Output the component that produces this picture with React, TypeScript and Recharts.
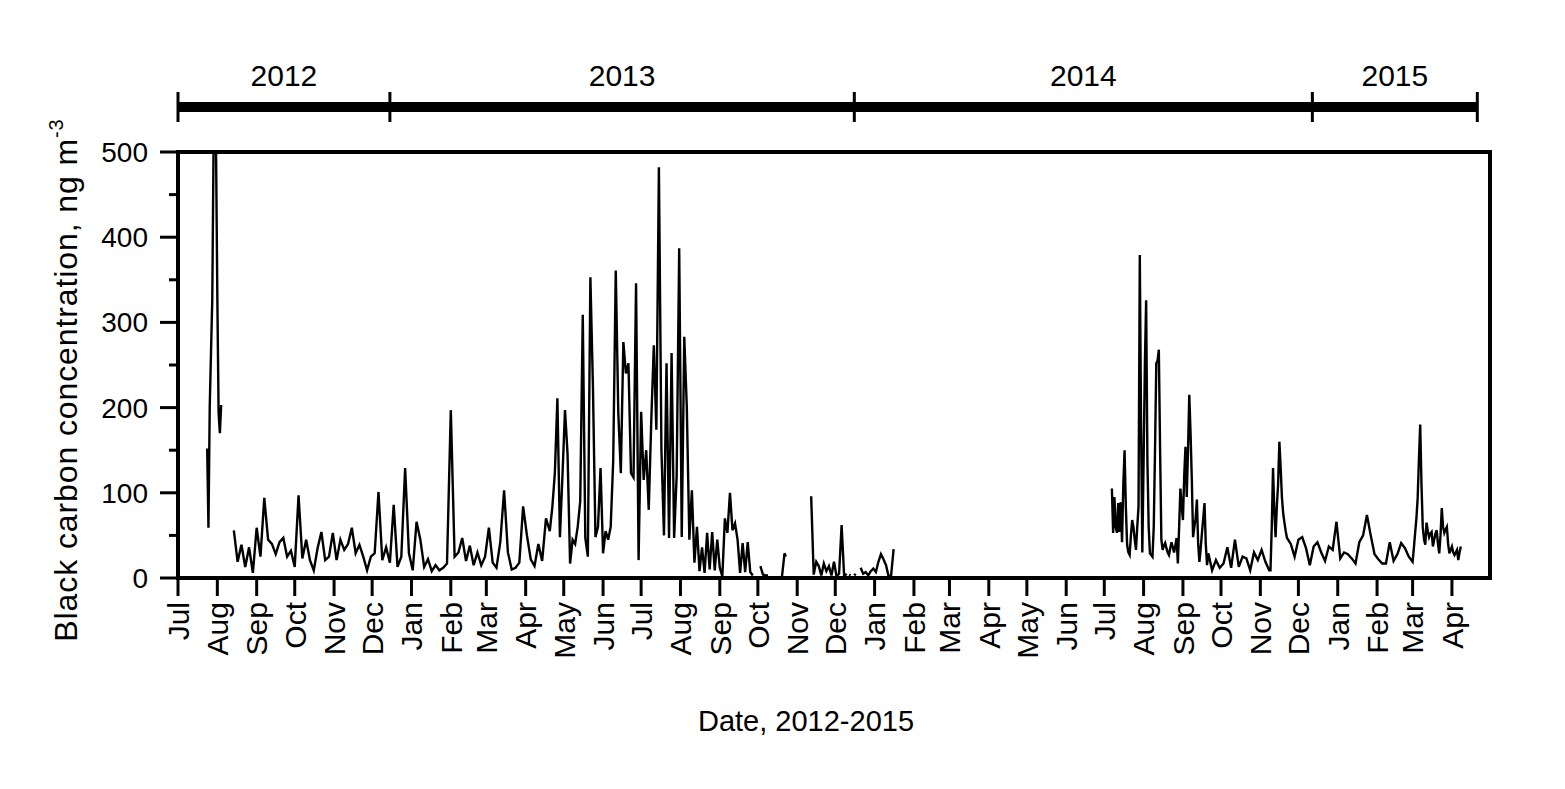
import React from 'react';
import { LineChart, Line, XAxis, YAxis, ComposedChart, Scatter } from 'recharts';

const FONT = '"Liberation Sans", Arial, sans-serif';
const DAY0 = Date.UTC(2012, 6, 1);
const dayOf = (iso: string) => Math.round((Date.parse(iso) - DAY0) / 86400000);
const END_DAY = dayOf('2015-05-01');

// black carbon, ng m-3; each piece = first date, step in days, values
const jul2012Spike = [152, 59, 200, 264, 326, 500, 500, 500, 330, 194, 170, 203];

const autumn2012 = [
  56, 19, 39, 13, 36, 6, 59, 25, 94, 45, 40, 28, 42, 47, 25, 32, 13, 97, 23, 45,
  21, 9, 35, 54, 21, 25, 53, 21, 45, 33, 40, 59, 29, 39, 25, 9, 25, 29, 101, 21,
  36, 18, 86, 13, 25, 129, 29, 9, 66, 45, 13, 22, 8, 15, 9, 12, 17, 197, 25, 30,
  47, 20, 38, 15, 30, 15, 25, 59, 18, 12, 42, 103, 30, 10, 12, 18, 84, 50, 22, 14,
  40, 20, 70, 55,
];

const summer2013 = [
  83, 123, 211, 48, 120, 197, 146, 17, 45, 40, 60, 90, 309, 47, 25, 353, 226, 48, 60, 129,
  29, 55, 45, 60, 138, 361, 194, 123, 277, 240, 252, 123, 118, 346, 21, 195, 115, 150, 80, 185,
  273, 174, 482, 150, 50, 252, 47, 264, 47, 120, 387, 48, 283, 200, 45, 103, 18, 60, 8, 36,
  6, 53, 10, 54, 9, 45, 12, 2, 70, 53, 100, 56, 64, 45, 6, 41, 7, 42, 7, 3,
];

const oct2013a = [14, 4, 3, 3];
const oct2013b = [2, 15, 29, 25];
const nov2013 = [96, 4, 19, 14, 3, 17, 8, 14, 3, 19, 2, 5, 62, 2, 5];
const dec2013a = [4, 3];
const dec2013b = [3, 5];
const dec2013c = [12, 5, 7, 3, 8, 11, 7, 19, 28, 22, 15, 2, 3, 34];

const summer2014 = [
  105, 53, 95, 60, 53, 88, 54, 89, 42, 109, 150, 84, 39, 30, 27, 50, 68, 60, 45, 33,
  60, 84, 379, 180, 30, 138, 250, 326, 138, 60, 29, 27, 25, 60, 150, 252, 255, 268, 150, 45,
  33, 38, 41, 35, 30, 27, 35, 42, 36, 30, 38, 47, 17, 60, 105, 85, 68, 120, 154, 95,
  150, 215, 170, 115, 48, 60, 70, 92, 40, 19, 35, 53, 70, 88, 40, 15, 29,
];
const autumn2014 = [9, 21, 12, 17, 36, 12, 45, 13, 25, 23, 9, 30, 21, 33, 19, 9];
const nov2014 = [9, 60, 129, 80, 48, 84, 110, 160, 130, 95, 76, 65, 55, 47];
const winter2015 = [
  40, 25, 45, 48, 35, 15, 37, 42, 30, 20, 37, 33, 66, 23, 30, 28, 23, 17, 42, 50,
  74, 50, 28, 22, 17, 17, 42, 20, 28, 41, 35, 25, 19,
];
const spring2015 = [
  35, 53, 70, 94, 140, 180, 110, 60, 45, 39, 65, 55, 48, 52, 54, 37, 45, 52, 56, 40,
  29, 50, 82, 60, 53, 57, 60, 40, 29, 33, 37, 30, 27, 30, 33, 21, 30, 37,
];

type Piece = { from: string; step: number; values: number[] };
// pieces inside a run are joined, runs are separated by gaps
const runs: Piece[][] = [
  [{ from: '2012-07-24', step: 1, values: jul2012Spike }],
  [
    { from: '2012-08-14', step: 3, values: autumn2012 },
    { from: '2013-04-22', step: 2, values: summer2013 },
  ],
  [{ from: '2013-10-03', step: 2, values: oct2013a }],
  [{ from: '2013-10-20', step: 1, values: oct2013b }],
  [{ from: '2013-11-12', step: 2, values: nov2013 }],
  [{ from: '2013-12-12', step: 1, values: dec2013a }],
  [{ from: '2013-12-16', step: 1, values: dec2013b }],
  [{ from: '2013-12-21', step: 2, values: dec2013c }],
  [
    { from: '2014-07-07', step: 1, values: summer2014 },
    { from: '2014-09-24', step: 3, values: autumn2014 },
    { from: '2014-11-09', step: 1, values: nov2014 },
    { from: '2014-11-25', step: 3, values: winter2015 },
    { from: '2015-03-02', step: 1, values: spring2015 },
  ],
];

const yearBounds = ['2012-07-01', '2012-12-15', '2013-12-16', '2014-12-12', '2015-04-21'];
const yearNames = ['2012', '2013', '2014', '2015'];
const monthNames = ['Jul', 'Aug', 'Sep', 'Oct', 'Nov', 'Dec', 'Jan', 'Feb', 'Mar', 'Apr', 'May', 'Jun'];
const yTicks = [0, 50, 100, 150, 200, 250, 300, 350, 400, 450, 500];

const rows: { day: number; bc: number | null }[] = [];
runs.forEach((run) => {
  if (rows.length) rows.push({ day: rows[rows.length - 1].day + 1, bc: null });
  run.forEach((p) => {
    const d0 = dayOf(p.from);
    p.values.forEach((v, i) => rows.push({ day: d0 + i * p.step, bc: v }));
  });
});

const monthTicks = Array.from({ length: 34 }, (_, i) => (Date.UTC(2012, 6 + i, 1) - DAY0) / 86400000);

const boundData = yearBounds.map((s) => ({ day: dayOf(s), v: 0.5 }));
const yearLabelData = yearNames.map((name, i) => ({
  day: (dayOf(yearBounds[i]) + dayOf(yearBounds[i + 1])) / 2,
  v: 0.5,
  name,
}));

const MonthTick = (props: any) => {
  const { x, y, index } = props;
  return (
    <g>
      <line x1={x} x2={x} y1={y} y2={y + 18} stroke="#000" strokeWidth={3} />
      <text
        transform={`translate(${x},${y + 24}) rotate(-90)`}
        textAnchor="end"
        dy="0.36em"
        fontSize={30}
        fontFamily={FONT}
        fill="#000"
      >
        {monthNames[index % 12]}
      </text>
    </g>
  );
};

const ValueTick = (props: any) => {
  const { x, y, payload } = props;
  const major = payload.value % 100 === 0;
  return (
    <g>
      <line x1={x} x2={x - (major ? 18 : 9)} y1={y} y2={y} stroke="#000" strokeWidth={3} />
      {major && (
        <text x={x - 30} y={y} dy="0.36em" textAnchor="end" fontSize={28} fontFamily={FONT} fill="#000">
          {payload.value}
        </text>
      )}
    </g>
  );
};

const YTitle = (props: any) => {
  const { viewBox } = props;
  const cx = viewBox.x - 13;
  const cy = viewBox.y + viewBox.height / 2 + 15;
  return (
    <text
      transform={`translate(${cx},${cy}) rotate(-90)`}
      textAnchor="middle"
      dy="0.36em"
      fontSize={32}
      letterSpacing={0.9}
      fontFamily={FONT}
      fill="#000"
    >
      Black carbon concentration, ng m
      <tspan fontSize={20} dy={-14}>-3</tspan>
    </text>
  );
};

const XTitle = (props: any) => {
  const { viewBox } = props;
  return (
    <text x={viewBox.x + viewBox.width / 2 - 28} y={viewBox.y + 143} dy="0.36em" textAnchor="middle" fontSize={29} fontFamily={FONT} fill="#000">
      Date, 2012-2015
    </text>
  );
};

const BoundTick = (props: any) => (
  <line x1={props.cx} x2={props.cx} y1={props.cy - 15} y2={props.cy + 15} stroke="#000" strokeWidth={3} />
);

const YearLabel = (props: any) => (
  <text x={props.cx} y={props.cy - 21} textAnchor="middle" fontSize={30} fontFamily={FONT} fill="#000">
    {props.payload.name}
  </text>
);

const frameLine = { stroke: '#000', strokeWidth: 4, strokeLinecap: 'square' as const };

export default function App() {
  return (
    <div style={{ position: 'relative', width: 1557, height: 781, background: '#fff' }}>
      <LineChart width={1557} height={781} data={rows} margin={{ top: 143, right: 74, bottom: 41, left: 70 }}>
        <XAxis
          xAxisId="frame"
          orientation="top"
          type="number"
          dataKey="day"
          domain={[0, END_DAY]}
          height={1}
          tick={false}
          tickLine={false}
          axisLine={frameLine}
        />
        <XAxis
          type="number"
          dataKey="day"
          domain={[0, END_DAY]}
          ticks={monthTicks}
          interval={0}
          tick={<MonthTick />}
          tickLine={false}
          tickSize={0}
          tickMargin={0}
          axisLine={frameLine}
          height={170}
          label={<XTitle />}
        />
        <YAxis
          domain={[0, 500]}
          ticks={yTicks}
          interval={0}
          allowDataOverflow
          tick={<ValueTick />}
          tickLine={false}
          tickSize={0}
          tickMargin={0}
          axisLine={frameLine}
          width={100}
          label={<YTitle />}
        />
        <YAxis yAxisId="frame" orientation="right" domain={[0, 500]} width={1} tick={false} tickLine={false} axisLine={frameLine} />
        <Line
          type="linear"
          dataKey="bc"
          stroke="#000"
          strokeWidth={2.4}
          dot={false}
          connectNulls={false}
          isAnimationActive={false}
        />
      </LineChart>
      <div style={{ position: 'absolute', left: 0, top: 49 }}>
        <ComposedChart width={1557} height={100} margin={{ top: 0, right: 75, bottom: 0, left: 170 }}>
          <XAxis type="number" dataKey="day" domain={[0, END_DAY]} hide />
          <YAxis type="number" dataKey="v" domain={[0, 1]} hide />
          <Scatter data={boundData} line={{ stroke: '#000', strokeWidth: 10 }} shape={<BoundTick />} isAnimationActive={false} />
          <Scatter data={yearLabelData} shape={<YearLabel />} isAnimationActive={false} />
        </ComposedChart>
      </div>
    </div>
  );
}
